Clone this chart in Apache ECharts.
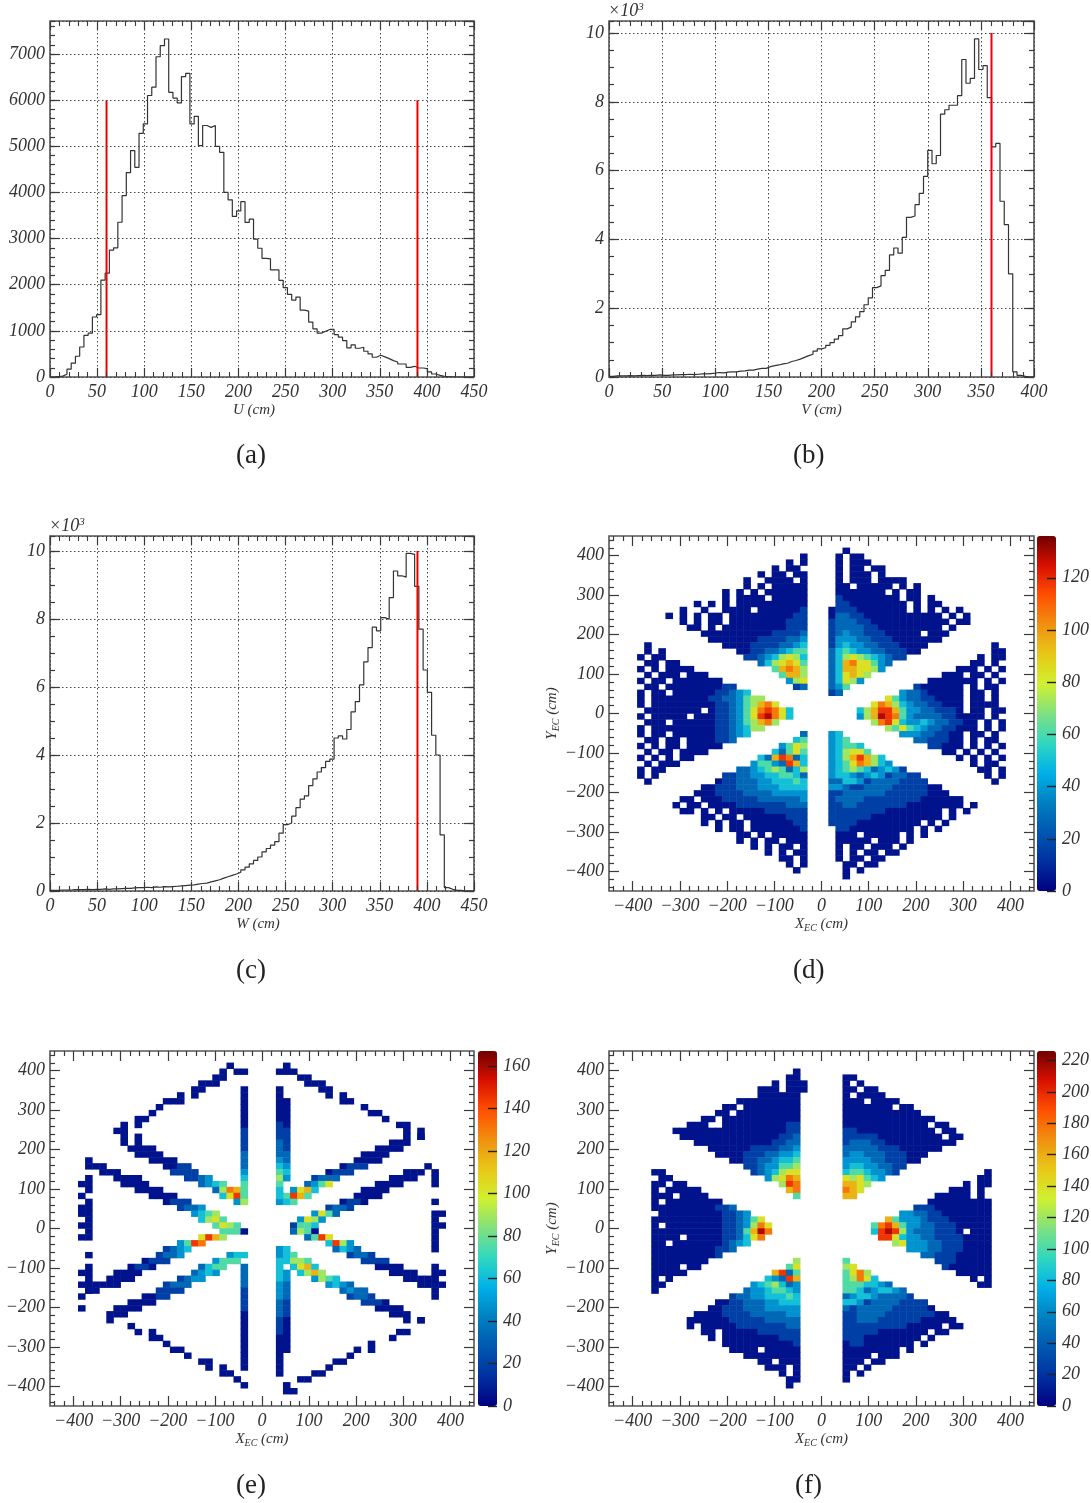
<!DOCTYPE html>
<html><head><meta charset="utf-8"><style>html,body{margin:0;padding:0;background:#fff}#c{width:1091px;height:1503px}</style>
<script src="https://cdn.jsdelivr.net/npm/echarts@6/dist/echarts.min.js"></script></head>
<body><div id="c"></div>
<script>
const histU=[0,10,20,60,170,300,450,650,900,950,1300,1350,2100,2250,2750,2800,3354,3930,4430,4906,4545,5280,5485,6100,6280,6940,7180,7325,6170,6045,5940,6510,6580,5485,5650,5015,5450,5410,5450,5000,4870,4000,3840,3480,3600,3800,3350,3420,2986,2790,2572,2560,2320,2320,2095,1935,1790,1667,1732,1450,1428,1190,1043,950,990,1030,1030,920,862,790,630,695,623,645,558,500,428,470,435,398,355,326,282,282,210,232,195,195,180,110,65,36,15,8,4,0,0,0,0,0];
const histV=[.02,.03,.03,.03,.04,.03,.04,.05,.04,.05,.05,.06,.05,.05,.06,.06,.07,.07,.08,.07,.08,.09,.09,.1,.11,.13,.12,.14,.15,.15,.17,.18,.2,.2,.23,.25,.25,.3,.33,.35,.38,.4,.45,.48,.52,.57,.62,.66,.75,.82,.85,.92,1,1.1,1.2,1.4,1.45,1.6,1.75,1.9,2.1,2.3,2.6,2.65,2.95,3.1,3.55,3.75,3.6,4.06,4.64,4.68,5.01,5.34,5.83,6.59,6.2,6.44,7.64,7.77,7.9,7.9,8.18,9.23,8.54,8.68,9.83,8.94,9.05,8.12,6.69,6.79,5.11,4.43,3,.15,.05,.02,0,0];
const histW=[.02,.02,.03,.03,.03,.04,.04,.04,.05,.04,.05,.05,.06,.05,.06,.06,.07,.08,.08,.09,.1,.1,.11,.1,.12,.11,.13,.12,.13,.14,.15,.16,.17,.18,.2,.22,.23,.27,.3,.33,.38,.42,.46,.5,.55,.62,.7,.8,.9,1,1.15,1.25,1.35,1.45,1.7,1.95,2,2.2,2.45,2.7,2.8,3.1,3.3,3.5,3.63,3.81,3.88,4.5,4.56,4.47,4.75,5.27,5.57,6.06,6.74,7.16,7.76,7.65,8.04,7.99,8.63,9.41,9.27,9.23,9.93,9.9,8.96,7.7,6.5,5.84,4.58,4,1.65,.1,.05,.02,.02,0,0,0];
const cutsU=[60,390], cutV=[360], cutW=[390];

// Each entry: "row col levels" (left to right) or "v col row levels" (top to bottom); '.' = empty bin.
const cellsD=[
"3 26 .0","4 25 0.0","5 23 0.00.","6 21 0.00.00","7 19 0..0000.0","8 18 .0.0.00000","9 16 0.0.0.000000","10 14 ..0.0000.00000","11 12 0.0.0.0000000000","12 10 0..0..0000.0000001","13 8 0.0.0.00.00000000011","14 10 0.0.00.00000000111","15 11 00.0.000000000111","16 13 000000000011112","17 14 00000001111223","18 16 000011112234","19 18 0011223455","20 19 112346764","21 21 2467875","22 23 58986","23 24 5886","24 25 367","25 26 12",
"18 5 0","19 5 0.0","20 4 0.00","21 4 .00.00","22 4 0.0.0000","23 4 .0.000.000","24 4 0.00.0000000","25 4 .00.0000000011","26 4 0.00.00000011234","27 4 0.0000000011223566","28 4 0.000000000112356897","29 4 .00000000.01123579a974","30 4 0.00000.00011235 7ab974","31 4 .000.00000011 2356896","32 4 0.0000000001123466","33 4 0.00.00000011234","34 4 .00.00.0000112","35 4 0.0.00.00000","36 4 .0.00.0000","37 4 0.0.0.00","38 4 .0.000","39 4 0.00","40 4 0.0","41 5 0",
"18 54 0","19 54 00","20 52 0.00","21 51 00.0.","22 49 000.0.0","23 47 000.00.0.","24 45 0000000.0.0","25 43 1000000.0.00.","26 41 322100000.00.0.","27 39 75322110000.00.0.","28 37 7986432211000.0000.","29 35 468aa8533221110.00.00","30 35 368ba9532222110000.0.","31 37 69a743343221100.0.0","32 39 6575432211000.0.0","33 41 333221100.00.0.","34 43 2211100.0.00.","35 45 11000.0.0.0","36 47 00.0.0.0.","37 49 0.0.0.0","38 51 0.00.","39 52 00.0","40 53 0.0","41 54 0",
"2 33 0","3 32 0.00","4 32 0.000","5 32 0.00.00","6 32 0.000.0.","7 32 0.000.0000","8 32 00.00000.0.0","9 32 0000000.0.00.","10 32 100000000.00.0.","11 32 1100000000.0.00.","12 31 01110000000.0.0.0.0","13 31 0221100000000000.0.0.","14 31 12221100000000000.00.","15 31 1222211000000000.0.","16 31 12322111 00000.000.","17 31 1333221110000000","18 31 13433221110000","19 31 2454332211100","20 31 24676543211","21 31 248977532","22 31 24887763","23 31 247876","24 31 24763","25 31 235","26 31 12",
"33 27 2","34 26 45","35 24 3576","36 23 42575","37 21 428a924","38 20 35532a84","39 18 2234565246","40 16 112233445542","41 15 0112223344454","42 13 001112223334444","43 12 0001111222233333","44 10 00.00011111222222 3","45 9 0.00.00001111111222","46 10 00.0.0.000001111 11","47 12 .00.00.000000111","48 13 0.0.00.00000011","49 15 0.00.00000001","50 17 .00.0.00000","51 18 0.0.00.000","52 20 0.0.00.0","53 22 0.0.00","54 23 .00.0","55 25 0.0","56 26 0.",
"33 31 34","34 31 345","35 31 34554","36 31 346775","37 31 3468a864","38 31 345798643","39 31 34565423431","40 31 3443234312211","41 31 22443122221111","42 31 3321122221111100","43 31 11222222111111000","44 31 1222211111111000000","45 31 112211111110000000 0.0","46 31 1111111100000000.0.0","47 31 1111110000000000.0.","48 31 111100000000 0.0.0","49 31 .11000000000.0.0","50 32 000.00000.0.0","51 32 00000.000.0.","52 32 0.00.000.0","53 32 0.0.00.00","54 32 0.00.00","55 33 00.00","56 33 0.0","57 33 0."
];
const cellsE=[
"2 25 0","3 24 0.","3 26 0.","4 23 00","5 21 000","6 20 00","7 18 0.0","8 16 000","9 15 0.","10 14 0.","11 12 00","12 10 0.0","13 9 00",
"14 10 0.0","15 10 0.0","16 11 0000","17 12 0000","18 14 0000","19 16 0011","20 17 1111","21 19 1123","22 21 2345","23 23 2698","24 24 47a7","25 26 37",
"v 27 3 0","v 27 6 00000001111222345556",
"2 33 0","3 33 00.","4 35 00","5 36 000","6 38 00","7 39 0.0","8 41 00","9 44 0","10 45 00","11 47 0.","12 49 00","13 50 0.0","14 52 0",
"14 50 0.0","15 48 000","16 46 0000","17 44 0000","18 43 0000","19 41 0111","20 39 0111","21 37 1222","22 36 2357","23 34 3784","24 33 5a85","25 32 345",
"v 32 3 0","v 32 6 0000001112223456544",
"v 33 8 00000111122343",
"19 6 00","20 7 000","21 9 0000","22 10 0000","23 12 0000","24 14 0000","25 16 0111","26 18 1223","27 20 3456","28 21 4675","29 23 5765","30 24 5550",
"31 21 7a86","32 18 35a9","33 16 1234","34 15 1223","35 13 0111","36 11 0110","37 9 0000","38 8 0000","39 6 0000","40 5 00",
"v 5 18 00.000.0000000..0.00000","v 4 21 .0.0.00.0.0.....0.0.0.0",
"19 53 0.","20 50 000","21 48 0000","22 46 0000","23 44 0000","24 43 0000","25 41 0110","26 39 1221","27 37 3752","28 35 3763","29 34 1554","30 34 2650",
"31 36 25a7","32 39 4a63","33 40 2432","34 42 1221","35 44 1111","36 46 0000","37 48 0000","38 50 0000","39 52 00",
"v 54 20 000..0.0000000..000000","v 55 27 0.0","v 55 37 0.0",
"34 25 344","35 23 3555","36 21 2455","37 20 2343","38 18 1233","39 16 1222","40 15 1111","41 13 0011","42 11 0000","43 9 0000","44 8 000","45 8 0.",
"46 10 .0","47 12 0.0","48 14 00","49 16 0","50 17 00","51 19 0.","52 21 00","53 22 0.0","54 24 00","55 25 .0","56 27 0",
"v 27 36 222211110000000000",
"33 32 34","34 32 345","35 33 4665","36 34 4784","37 35 4686","38 37 3654","39 39 3432","40 41 2322","41 42 1221","42 44 1110","43 46 0000","44 48 000","45 50 0.0","45 52 0",
"47 49 00","48 47 .0","49 45 0","50 43 0.0","51 42 0","52 40 00","53 39 0","54 37 00","55 35 00","56 33 0.","57 33 00",
"v 32 35 44443332221110000000","v 33 37 33222111000000"
];
const cellsF=[
"3 26 0","4 25 00","5 23 0.000","6 21 000.000","7 20 .000000","8 18 000000000","9 16 00.00000000","10 15 00.000000000","11 13 00.00000000000","12 11 000..00000000011","13 9 000000000000000011","14 10 00000000000000112","15 12 000000000001122","16 14 0000001111223","17 15 000011122334","18 17 0011223445","19 19 11233556","20 20 1234677","21 22 36798","22 24 6a9","23 25 89","24 26 5",
"20 6 00","21 6 .00","22 6 00.00","23 6 0.00000","24 6 000.0000","25 6 0.00000000","26 6 000000000112","27 6 .0000000001123","28 6 0000000000112357","29 6 0.000000001123697","30 6 000000000011258b9","31 6 0000.00000112479","32 6 00.00000001234","33 6 000000000112","34 6 0000000001","35 6 00000000","36 6 0000.00","37 6 00000","38 6 0.0","39 6 00","40 6 0",
"20 53 0","21 52 00","22 50 0.00","23 48 000.0.","24 46 00000.0.","25 45 000000000","26 43 11100000000","27 41 3322110000000","28 39 853332111000000","29 37 59a8533221110000 0","30 37 4aba632221110.000","31 38 aa74332211110000","32 40 67333221110000","33 42 333221110000","34 44 2211100000","35 46 11100000","36 47 1000000","37 49 00000","38 51 0.0","39 52 00",
"4 33 00","5 33 0.0","6 33 00.00","7 33 0.0000","8 33 000.0000","9 33 0000000.00","10 33 00000000000","11 33 0000000000000","12 33 000000000000.00","13 33 1100000000000.00","14 33 11111000000000.00","15 33 1222110000000000","16 33 22222111000000","17 33 233222111000","18 33 33332211100","19 33 344332211","20 33 45543321","21 33 767543","22 33 8876","23 33 987","24 33 88",
"35 26 6","36 25 57","37 23 8a25","38 22 432a8","39 20 3456423","40 19 23345543","41 17 1223344454","42 15 001122233444","43 14 0011122233333","44 12 000011112222233","45 11 0000001111122222","46 11 0.00000111111122","47 13 00.00000111111","48 14 0.00000000111","49 16 00000000001","50 17 0000.00000","51 19 00000000","52 21 00.000","53 22 000.0","54 24 0.0","55 25 00","56 25 0",
"35 33 5","36 33 67","37 33 5796","38 33 56974","39 33 5554432","40 33 554234432","41 33 2344322221","42 33 443122221111","43 33 2122222111110","44 33 112222111111100","45 33 1122211111100000","46 33 11111111100000.00","47 33 111110000000.00","48 33 11100000000.0","49 33 0110000000.0","50 33 00000000.0","51 33 0000.000","52 33 000.00","53 33 00.0","54 33 0.0","55 33 0"
];
const colorStops=['#00007f','#0030a0','#0058b0','#0080c0','#00b0e8','#30d8c0','#80e080','#d0f030','#e8c818','#f09010','#ff5000','#d81000','#700000'];
const ticksMajor=[-400,-300,-200,-100,0,100,200,300,400];
const ticksMinor=[-440,-420,-380,-360,-340,-320,-280,-260,-240,-220,-180,-160,-140,-120,-80,-60,-40,-20,20,40,60,80,120,140,160,180,220,240,260,280,320,340,360,380,420,440];
const colorTops={d:136,e:167,f:226};

const FONT='"Liberation Serif"', INK='#3a3a3a', BINS=60;
const grids=[],xAxis=[],yAxis=[],series=[],visualMap=[],graphic=[];
const labelStyle={fontFamily:FONT,fontStyle:'italic',fontSize:18,color:'#333'};
const nameStyle={fontFamily:FONT,fontStyle:'italic',fontSize:15,color:'#333',
  rich:{s:{fontFamily:FONT,fontStyle:'italic',fontSize:10,color:'#333',padding:[7,0,0,0]}}};
const tick=(len,extra={})=>Object.assign({show:true,inside:true,length:len,lineStyle:{color:INK,width:1.2}},extra);
const noLine={show:false,onZero:false};
const plain=v=>String(v);
function frame(l,t,w,h){grids.push({left:l,top:t,width:w,height:h,outerBoundsMode:'none',containLabel:false,show:true,borderColor:'#555',borderWidth:1.6,backgroundColor:'transparent'});return grids.length-1;}
function axis(list,o){list.push(Object.assign({type:'value',axisLine:noLine,splitLine:{show:false},axisLabel:{show:false},axisTick:{show:false},z:6},o));return list.length-1;}
function cap(x,y,text){graphic.push({type:'text',left:x,top:y,style:{text,fontFamily:FONT,fontSize:27,fill:'#222'}});}
function times(x,y){graphic.push({type:'text',left:x,top:y,style:{text:'×10{s|3}',fontFamily:FONT,fontStyle:'italic',fontSize:18,fill:'#333',rich:{s:{fontFamily:FONT,fontStyle:'italic',fontSize:11,fill:'#333',padding:[0,0,8,0]}}}});}

function hist(l,t,w,h,o){
  const g=frame(l,t,w,h), dot={show:true,lineStyle:{type:[1.5,2.5],color:'#444',width:1}};
  const x0=axis(xAxis,{gridIndex:g,position:'bottom',min:0,max:o.xMax,interval:50,
    axisLabel:Object.assign({show:true,margin:6,formatter:plain},labelStyle),axisTick:tick(9),minorTick:{show:true,splitNumber:5,length:5,lineStyle:{color:INK,width:1.1}},splitLine:dot,
    name:o.name,nameLocation:'middle',nameGap:26,nameTextStyle:Object.assign({padding:[0,o.namePad,0,0]},nameStyle)});
  axis(xAxis,{gridIndex:g,position:'top',min:0,max:o.xMax,interval:50,axisTick:tick(9),minorTick:{show:true,splitNumber:5,length:5,lineStyle:{color:INK,width:1.1}}});
  const y0=axis(yAxis,{gridIndex:g,position:'left',min:0,max:o.yMax,interval:o.yStep,
    axisLabel:Object.assign({show:true,margin:5,showMaxLabel:false,formatter:plain},labelStyle),axisTick:tick(10),splitLine:dot});
  axis(yAxis,{gridIndex:g,position:'right',min:0,max:o.yMax,interval:o.yStep,axisTick:tick(10)});
  axis(yAxis,{gridIndex:g,position:'left',min:0,max:o.yMax,interval:o.yMinor,axisTick:tick(5)});
  axis(yAxis,{gridIndex:g,position:'right',min:0,max:o.yMax,interval:o.yMinor,axisTick:tick(5)});
  const pts=o.values.map((v,i)=>[i*o.bin,v]); pts.push([o.values.length*o.bin,o.values[o.values.length-1]]);
  series.push({type:'line',xAxisIndex:x0,yAxisIndex:y0,step:'end',showSymbol:false,symbol:'none',data:pts,lineStyle:{color:'#333',width:1.2},z:3});
  o.cuts.forEach(c=>series.push({type:'line',xAxisIndex:x0,yAxisIndex:y0,showSymbol:false,symbol:'none',data:[[c,0],[c,o.cutTop]],lineStyle:{color:'#f00000',width:2},z:4}));
}
function decode(entries,max){
  const out=[];
  const put=(c,r,ch)=>{if(ch==='.'||ch===' ')return;out.push([c,BINS-1-r,+((parseInt(ch,36)+0.4)*max/12).toFixed(1)]);};
  entries.forEach(e=>{
    const p=e.split(' ');
    if(p[0]==='v'){const c=+p[1],r=+p[2];[...p.slice(3).join('')].forEach((ch,i)=>put(c,r+i,ch));}
    else{const r=+p[0],c=+p[1];[...p.slice(2).join('')].forEach((ch,i)=>put(c+i,r,ch));}
  });
  return out;
}
const binCenters=[...Array(BINS).keys()].map(i=>String(-450+15*i+7.5));
const minus=v=>String(v).replace('-','\u2212');
function heat(l,t,w,h,barLeft,top,entries){
  const g=frame(l,t,w,h);
  const xc=axis(xAxis,{gridIndex:g,type:'category',data:binCenters,show:false,boundaryGap:true});
  const yc=axis(yAxis,{gridIndex:g,type:'category',data:binCenters,show:false,boundaryGap:true});
  const nm=(s)=>s+'{s|EC} (cm)';
  axis(xAxis,{gridIndex:g,position:'bottom',min:-450,max:450,name:nm('X'),nameLocation:'middle',nameGap:25,nameTextStyle:nameStyle,
    axisTick:tick(10,{customValues:ticksMajor}),axisLabel:Object.assign({show:true,margin:6,customValues:ticksMajor,formatter:minus},labelStyle)});
  axis(xAxis,{gridIndex:g,position:'top',min:-450,max:450,axisTick:tick(10,{customValues:ticksMajor})});
  axis(xAxis,{gridIndex:g,position:'bottom',min:-450,max:450,axisTick:tick(5,{customValues:ticksMinor})});
  axis(xAxis,{gridIndex:g,position:'top',min:-450,max:450,axisTick:tick(5,{customValues:ticksMinor})});
  axis(yAxis,{gridIndex:g,position:'left',min:-450,max:450,name:nm('Y'),nameLocation:'middle',nameGap:26,nameTextStyle:nameStyle,
    axisTick:tick(10,{customValues:ticksMajor}),axisLabel:Object.assign({show:true,margin:5,customValues:ticksMajor,formatter:minus},labelStyle)});
  axis(yAxis,{gridIndex:g,position:'right',min:-450,max:450,axisTick:tick(10,{customValues:ticksMajor})});
  axis(yAxis,{gridIndex:g,position:'left',min:-450,max:450,axisTick:tick(5,{customValues:ticksMinor})});
  axis(yAxis,{gridIndex:g,position:'right',min:-450,max:450,axisTick:tick(5,{customValues:ticksMinor})});
  const si=series.length;
  series.push({type:'heatmap',xAxisIndex:xc,yAxisIndex:yc,data:decode(entries,top),z:2,emphasis:{disabled:true}});
  visualMap.push({type:'continuous',seriesIndex:si,min:0,max:top,left:barLeft,top:t,itemWidth:19,itemHeight:h,padding:0,calculable:false,hoverLink:false,inRange:{color:colorStops},text:null,z:1});
  // colour bar scale
  const gb=grids.length; grids.push({left:barLeft,top:t,width:19,height:h,show:false,outerBoundsMode:'none',containLabel:false});
  axis(xAxis,{gridIndex:gb,position:'bottom',min:0,max:1});
  axis(yAxis,{gridIndex:gb,position:'right',min:0,max:top,interval:20,axisTick:tick(9,{lineStyle:{color:'#222',width:1.4}}),
    axisLabel:Object.assign({show:true,margin:6,showMaxLabel:false,formatter:plain},labelStyle)});
}

hist(50,21,424,356,{name:'U (cm)',namePad:16,xMax:450,yMax:7715,yStep:1000,yMinor:200,bin:4.5,values:histU,cuts:cutsU,cutTop:6000});
hist(609,21,425,356,{name:'V (cm)',namePad:0,xMax:400,yMax:10.35,yStep:2,yMinor:.5,bin:4,values:histV,cuts:cutV,cutTop:10});
hist(50,536,424,355,{name:'W (cm)',namePad:8,xMax:450,yMax:10.44,yStep:2,yMinor:.5,bin:4.5,values:histW,cuts:cutW,cutTop:10});
heat(609,536,425,355,1037,colorTops.d,cellsD);
heat(50,1051,424,355,478,colorTops.e,cellsE);
heat(609,1051,425,355,1037,colorTops.f,cellsF);
times(608,2); times(49,517);
cap(236,442,'(a)');cap(793,442,'(b)');cap(236,957,'(c)');cap(793,957,'(d)');cap(236,1472,'(e)');cap(795,1472,'(f)');

const chart=echarts.init(document.getElementById('c'),null,{renderer:'canvas'});
chart.setOption({animation:false,backgroundColor:'#fff',grid:grids,xAxis,yAxis,series,visualMap,graphic});
</script></body></html>
